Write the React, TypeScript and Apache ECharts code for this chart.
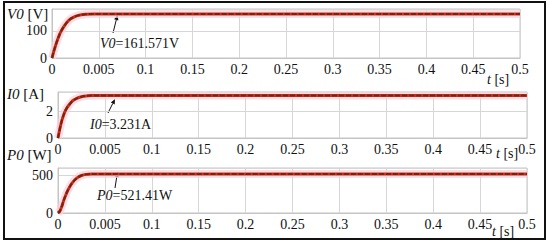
import React, { useEffect, useRef } from "react";
import * as echarts from "echarts";

// time samples (axis units)
const T = [0, 0.002, 0.004, 0.006, 0.008, 0.01, 0.013, 0.016, 0.02, 0.025, 0.03, 0.036, 0.045, 0.06, 0.5];
// output voltage V0 [V]
const V = [0, 25, 48, 68, 86, 100, 117, 131, 144, 153, 158, 160.8, 161.5, 161.571, 161.571];
// output current I0 [A]
const I = [0, 0.7, 1.3, 1.75, 2.1, 2.35, 2.62, 2.85, 3.02, 3.14, 3.2, 3.225, 3.231, 3.231, 3.231];
// output power P0 [W]
const P = [0, 25, 85, 165, 230, 290, 360, 415, 465, 500, 515, 520, 521.41, 521.41, 521.41];

const V_FINAL = "161.571";
const I_FINAL = "3.231";
const P_FINAL = "521.41";

const X_TICK_LABELS = ["0", "0.005", "0.1", "0.15", "0.2", "0.25", "0.3", "0.35", "0.4", "0.45", "0.5"];
const V_TICKS = [0, 100];
const I_TICKS = [0, 2];
const P_TICKS = [0, 500];

const FONT = "'Liberation Serif', 'Times New Roman', serif";

export default function App() {
  const ref = useRef<HTMLDivElement>(null);
  useEffect(() => {
    if (!ref.current) return;
    const chart = echarts.init(ref.current, null, { renderer: "svg" });

    const grids = [
      { left: 52, top: 9, width: 468, height: 49 },
      { left: 58, top: 92, width: 469, height: 46 },
      { left: 58, top: 168, width: 469, height: 45 },
    ].map((g) => ({ ...g, show: true, borderColor: "#c4c4c4", borderWidth: 1, backgroundColor: "#fff" }));

    const xAxes = [0, 1, 2].map((gi) => ({
      type: "value",
      gridIndex: gi,
      min: 0,
      max: 0.5,
      interval: 0.05,
      axisLine: { show: true, lineStyle: { color: "#c4c4c4" } },
      axisTick: { show: false },
      splitLine: { show: true, lineStyle: { color: "#d6d6d6", width: 1 } },
      axisLabel: {
        color: "#111",
        fontFamily: FONT,
        fontSize: 14,
        margin: 4,
        formatter: (v: number) => X_TICK_LABELS[Math.round(v / 0.05)] ?? "",
      },
    }));

    const mkY = (gi: number, max: number, interval: number, ticks: number[]) => ({
      type: "value",
      gridIndex: gi,
      min: 0,
      max,
      interval,
      axisLine: { show: true, lineStyle: { color: "#c4c4c4" } },
      axisTick: { show: false },
      splitLine: { show: true, lineStyle: { color: "#d6d6d6", width: 1 } },
      axisLabel: {
        color: "#111",
        fontFamily: FONT,
        fontSize: 14,
        margin: 5,
        formatter: (v: number) => (ticks.includes(v) ? String(v) : ""),
      },
    });

    const yAxes = [mkY(0, 180, 100, V_TICKS), mkY(1, 3.5, 2, I_TICKS), mkY(2, 600, 500, P_TICKS)];

    const mkSeries = (gi: number, vals: number[]) => {
      const data = T.map((t, i) => [t, vals[i]]);
      const base = { type: "line", xAxisIndex: gi, yAxisIndex: gi, data, showSymbol: false, smooth: 0.3, silent: true };
      return [
        { ...base, lineStyle: { color: "#fcd0dd", width: 8, opacity: 0.7 } },
        { ...base, lineStyle: { color: "#d42a1e", width: 3 } },
        { ...base, lineStyle: { color: "#6a2a0c", width: 2, type: [5, 2] } },
      ];
    };

    const arrow = (x1: number, y1: number, x2: number, y2: number) => {
      const ang = Math.atan2(y2 - y1, x2 - x1);
      const L = 5, W = 2.2;
      const bx = x2 - L * Math.cos(ang), by = y2 - L * Math.sin(ang);
      const px = -Math.sin(ang) * W, py = Math.cos(ang) * W;
      return [
        { type: "line", shape: { x1, y1, x2: bx, y2: by }, style: { stroke: "#111", lineWidth: 1 } },
        { type: "polygon", shape: { points: [[x2, y2], [bx + px, by + py], [bx - px, by - py]] }, style: { fill: "#111" } },
      ];
    };

    const label = (x: number, y: number, text: string, size = 15, align = "left") => ({
      type: "text",
      x,
      y,
      style: {
        text,
        rich: {
          i: { fontStyle: "italic", fontFamily: FONT, fontSize: size, fill: "#111" },
          n: { fontFamily: FONT, fontSize: size, fill: "#111" },
        },
        verticalAlign: "middle",
        align,
      },
      z: 100,
    });

    chart.setOption({
      animation: false,
      backgroundColor: "#fff",
      grid: grids,
      xAxis: xAxes,
      yAxis: yAxes,
      series: [...mkSeries(0, V), ...mkSeries(1, I), ...mkSeries(2, P)],
      graphic: [
        { type: "rect", shape: { x: 4, y: 2, width: 541, height: 237 }, style: { fill: "none", stroke: "#111", lineWidth: 2 }, z: 100 },
        label(7, 14, "{i|V0}{n| [V]}"),
        label(7, 94, "{i|I0}{n| [A]}"),
        label(7, 155, "{i|P0}{n| [W]}"),
        label(487, 79, "{i|t}{n| [s]}", 14),
        label(496, 153, "{i|t}{n| [s]}", 14),
        label(492, 231, "{i|t}{n| [s]}", 14),
        label(100, 43, `{i|V0}{n|=${V_FINAL}V}`, 14),
        label(90, 124, `{i|I0}{n|=${I_FINAL}A}`, 14),
        label(97, 195, `{i|P0}{n|=${P_FINAL}W}`, 14),
        ...arrow(113, 33, 117.5, 15),
        ...arrow(108, 113, 115, 99),
        ...arrow(115, 188, 117.5, 172),
      ],
    });
    return () => chart.dispose();
  }, []);
  return (
    <div
      ref={ref}
      style={{ position: "fixed", left: 0, top: 0, width: 550, height: 245, background: "#fff" }}
    />
  );
}
